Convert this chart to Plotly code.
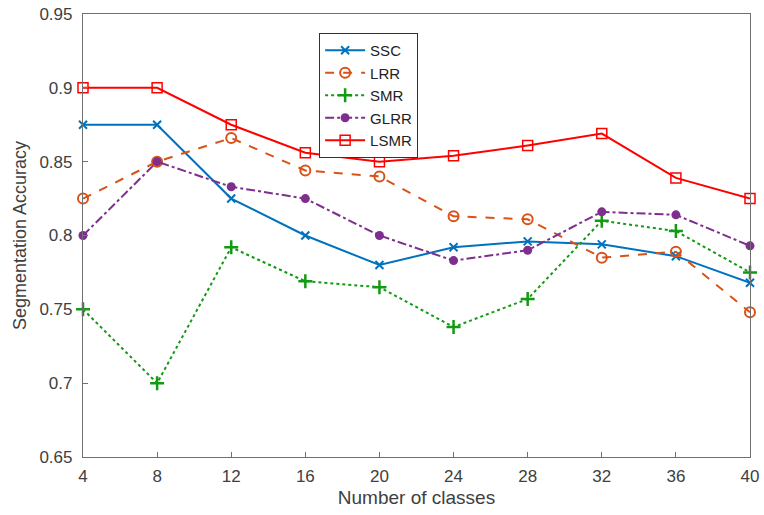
import plotly.graph_objects as go

classes = [4, 8, 12, 16, 20, 24, 28, 32, 36, 40]
ssc = [0.875, 0.875, 0.825, 0.800, 0.780, 0.792, 0.796, 0.794, 0.786, 0.768]
lrr = [0.825, 0.850, 0.866, 0.844, 0.840, 0.813, 0.811, 0.785, 0.789, 0.748]
smr = [0.750, 0.700, 0.792, 0.769, 0.765, 0.738, 0.757, 0.810, 0.803, 0.775]
glrr = [0.800, 0.850, 0.833, 0.825, 0.800, 0.783, 0.790, 0.816, 0.814, 0.793]
lsmr = [0.900, 0.900, 0.875, 0.856, 0.850, 0.854, 0.861, 0.869, 0.839, 0.825]

y_ticks = [0.65, 0.7, 0.75, 0.8, 0.85, 0.9, 0.95]
y_tick_labels = ["0.65", "0.7", "0.75", "0.8", "0.85", "0.9", "0.95"]
x_ticks = classes

fig = go.Figure()

def add(name, y, color, dash, symbol, msize, mline=None):
    marker = dict(symbol=symbol, size=msize, color=color)
    if mline is not None:
        marker["line"] = dict(color=color, width=mline)
    fig.add_trace(go.Scatter(
        x=classes, y=y, name=name, mode="lines+markers",
        line=dict(color=color, width=2, dash=dash),
        marker=marker, cliponaxis=False,
    ))

add("SSC", ssc, "#0072BD", "solid", "x-thin", 8, 2)
add("LRR", lrr, "#D95319", "dash", "circle-open", 10, 2)
add("SMR", smr, "#129A12", "dot", "cross-thin", 10, 2.5)
add("GLRR", glrr, "#7E2F8E", "dashdot", "circle", 9)
add("LSMR", lsmr, "#FF0000", "solid", "square-open", 10, 1.5)

axis_common = dict(
    showline=True, linecolor="#707070", linewidth=1.2, mirror=True,
    ticks="inside", ticklen=5, tickcolor="#707070", showgrid=False,
    zeroline=False, tickfont=dict(size=17, color="#404040"),
    automargin=False,
)

fig.update_layout(
    width=764, height=515,
    margin=dict(l=83, r=14, t=14, b=58),
    paper_bgcolor="white", plot_bgcolor="white",
    font=dict(family="Liberation Sans, Arial, sans-serif", color="#404040"),
    xaxis=dict(range=[4, 40], tickvals=x_ticks, ticklabelstandoff=3,
               title=dict(text="Number of classes", font=dict(size=19), standoff=6),
               **axis_common),
    yaxis=dict(range=[0.65, 0.95], tickvals=y_ticks, ticktext=y_tick_labels,
               ticklabelstandoff=6,
               title=dict(text="Segmentation Accuracy", font=dict(size=18), standoff=8),
               **axis_common),
    legend=dict(x=0.354, y=0.957, xanchor="left", yanchor="top",
                bgcolor="white", bordercolor="#333333", borderwidth=1,
                font=dict(size=15, color="#222222"), tracegroupgap=0,
                itemwidth=40),
    showlegend=True,
)

fig.write_html("out.html", config={"displayModeBar": False},
               post_script="document.body.style.margin='0';")
